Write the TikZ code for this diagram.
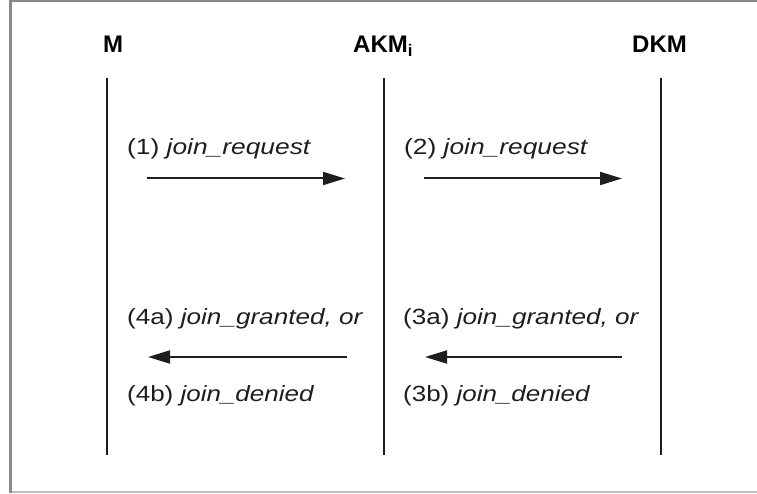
\documentclass[tikz,border=0pt]{standalone}
\usepackage{fontspec}
\usepackage{graphicx}
\setmainfont{Liberation Sans}
\usetikzlibrary{arrows.meta}
\definecolor{framegray}{HTML}{8A8A8A}
\definecolor{framelight}{HTML}{BDBDBD}
\definecolor{inkgray}{HTML}{1E1E1E}
\tikzset{
  actor/.style={anchor=base west, inner sep=0pt, font=\fontsize{24}{28}\selectfont\bfseries},
  msg/.style={anchor=base west, inner sep=0pt, text=inkgray, font=\fontsize{22}{26}\selectfont},
  lifeline/.style={draw=inkgray, line width=2.4pt},
  signal/.style={draw=inkgray, line width=2pt, -{Triangle[length=22pt,width=13pt]}},
}
\newcommand{\msgtext}[2]{\resizebox{#1pt}{\height}{#2}}
\begin{document}
\begin{tikzpicture}[x=1pt,y=-1pt]
  \useasboundingbox (0,0) rectangle (757,494);
  % frame
  \draw[framegray, line width=3pt] (10,0) -- (10,493);
  \draw[framegray, line width=2.5pt] (8.5,1.2) -- (757,1.2);
  \draw[framelight, line width=2.5pt] (11.5,492) -- (757,492);

  % participants
  \node[actor] (hm) at (103,53) {M};
  \node[actor] (hakm) at (353,53) {AKM\textsubscript{i}};
  \node[actor] (hdkm) at (632,53) {DKM};

  % lifelines
  \coordinate (mT) at (107,78);   \coordinate (mB) at (107,455);
  \coordinate (aT) at (384,78);   \coordinate (aB) at (384,455);
  \coordinate (dT) at (661,78);   \coordinate (dB) at (661,455);
  \draw[lifeline] (mT) -- (mB);
  \draw[lifeline] (aT) -- (aB);
  \draw[lifeline] (dT) -- (dB);

  % messages
  \node[msg] (m1) at (127,155) {\msgtext{184}{(1) \textit{join\_request}}};
  \node[msg] (m2) at (404,155) {\msgtext{184}{(2) \textit{join\_request}}};
  \node[msg] (m4a) at (127,324) {\msgtext{236}{(4a) \textit{join\_granted, or}}};
  \node[msg] (m4b) at (127,401) {\msgtext{187}{(4b) \textit{join\_denied}}};
  \node[msg] (m3a) at (403,324) {\msgtext{236}{(3a) \textit{join\_granted, or}}};
  \node[msg] (m3b) at (403,401) {\msgtext{187}{(3b) \textit{join\_denied}}};

  % signal arrows
  \coordinate (s1a) at (147,178.5); \coordinate (s1b) at (345,178.5);
  \coordinate (s2a) at (424,178.5); \coordinate (s2b) at (622,178.5);
  \coordinate (s3a) at (622,357);   \coordinate (s3b) at (425,357);
  \coordinate (s4a) at (347,357);   \coordinate (s4b) at (148,357);
  \draw[signal] (s1a) -- (s1b);
  \draw[signal] (s2a) -- (s2b);
  \draw[signal] (s3a) -- (s3b);
  \draw[signal] (s4a) -- (s4b);
\end{tikzpicture}
\end{document}
